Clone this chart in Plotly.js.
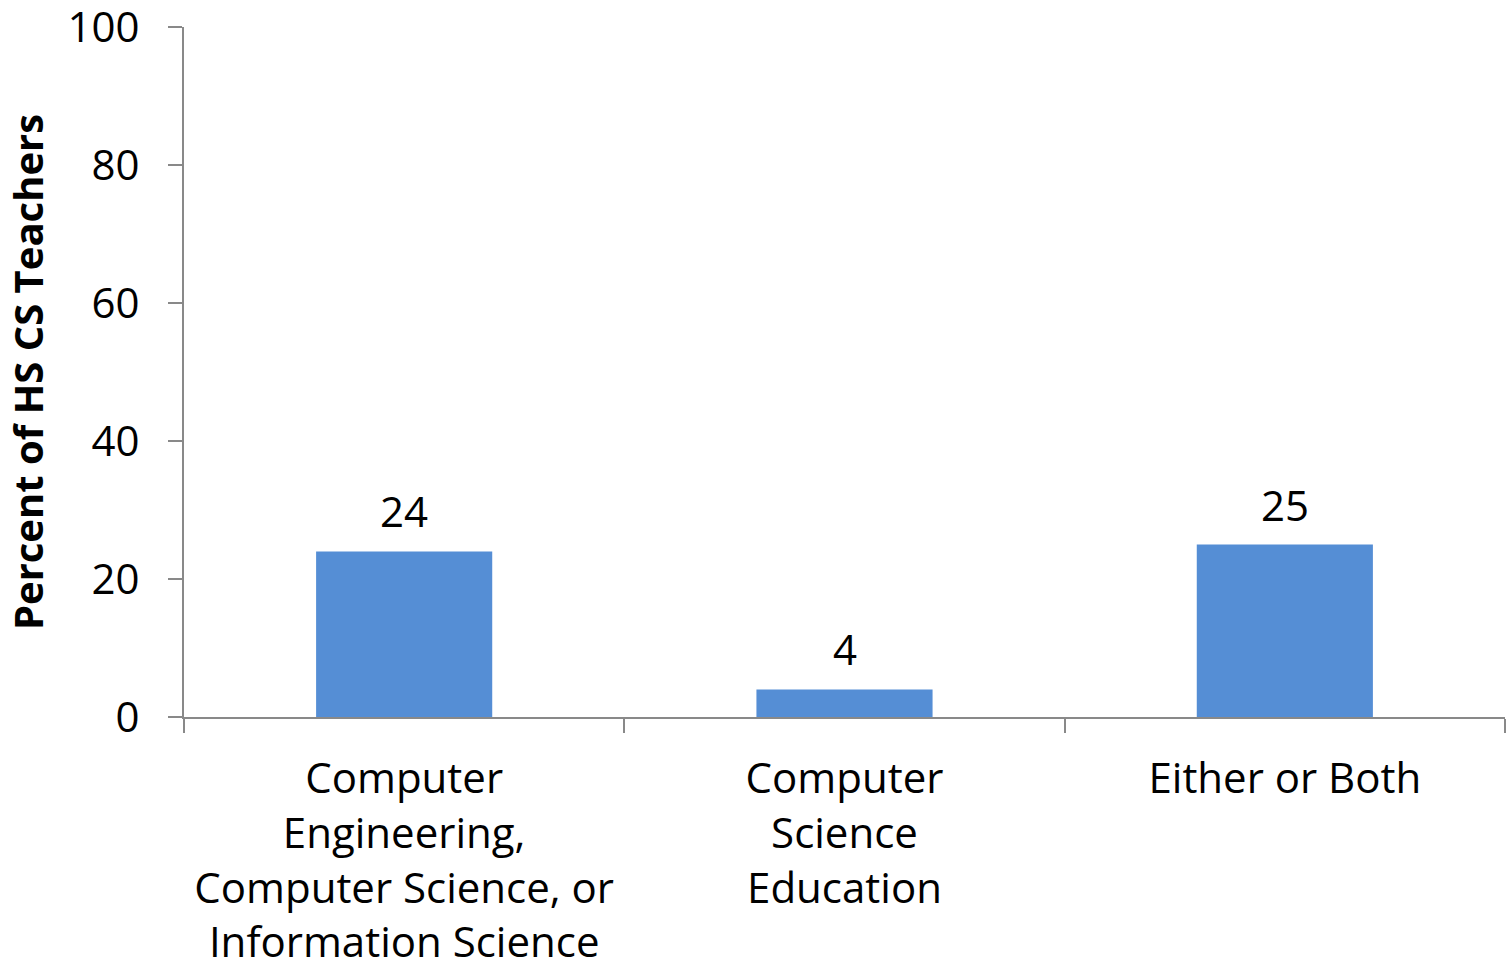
<!DOCTYPE html>
<html>
<head>
<meta charset="utf-8">
<script src="https://cdn.plot.ly/plotly-3.0.1.min.js"></script>
<style>html,body{margin:0;padding:0;background:#fff;}#chart{width:1510px;height:973px;}</style>
</head>
<body>
<div id="chart"></div>
<script>
const categories = [
  "Computer<br>Engineering,<br>Computer Science, or<br>Information Science",
  "Computer<br>Science<br>Education",
  "Either or Both"
];
const values = [24, 4, 25];
const yTickValues = [0, 20, 40, 60, 80, 100];
const yTitle = "Percent of HS CS Teachers";

const FONT = "Open Sans, sans-serif";
const AXIS_COLOR = "#898989";
const TICK_SIZE = 42;

const trace = {
  type: "bar",
  x: categories,
  y: values,
  marker: {color: "#558ED5"},
  width: 0.4,
  hoverinfo: "skip"
};

const labelAnnotations = categories.map((c, i) => ({
  x: c,
  y: values[i],
  xref: "x",
  yref: "y",
  text: String(values[i]),
  showarrow: false,
  yanchor: "bottom",
  yshift: 10,
  font: {family: FONT, size: TICK_SIZE, color: "#000"}
}));

const layout = {
  width: 1510,
  height: 973,
  margin: {l: 184, r: 5, t: 27, b: 256},
  paper_bgcolor: "#fff",
  plot_bgcolor: "#fff",
  showlegend: false,
  font: {family: FONT, color: "#000"},
  annotations: labelAnnotations,
  xaxis: {
    type: "category",
    showline: true,
    linecolor: AXIS_COLOR,
    linewidth: 2,
    ticks: "outside",
    tickson: "boundaries",
    ticklen: 14,
    tickwidth: 2,
    tickcolor: AXIS_COLOR,
    tickfont: {family: FONT, size: TICK_SIZE, color: "#000"},
    ticklabelstandoff: 24,
    showgrid: false,
    zeroline: false,
    fixedrange: true
  },
  yaxis: {
    range: [0, 100],
    tickvals: yTickValues,
    ticktext: yTickValues.map(String),
    showline: true,
    linecolor: AXIS_COLOR,
    linewidth: 2,
    ticks: "outside",
    ticklen: 14,
    tickwidth: 2,
    tickcolor: AXIS_COLOR,
    tickfont: {family: FONT, size: TICK_SIZE, color: "#000"},
    ticklabelstandoff: 20,
    ticklabeloverflow: "allow",
    showgrid: false,
    zeroline: false,
    title: {text: yTitle, font: {family: FONT, size: 40, color: "#000", weight: "bold"}, standoff: 28},
    fixedrange: true
  }
};

Plotly.newPlot("chart", [trace], layout, {displayModeBar: false, staticPlot: true});
</script>
</body>
</html>
